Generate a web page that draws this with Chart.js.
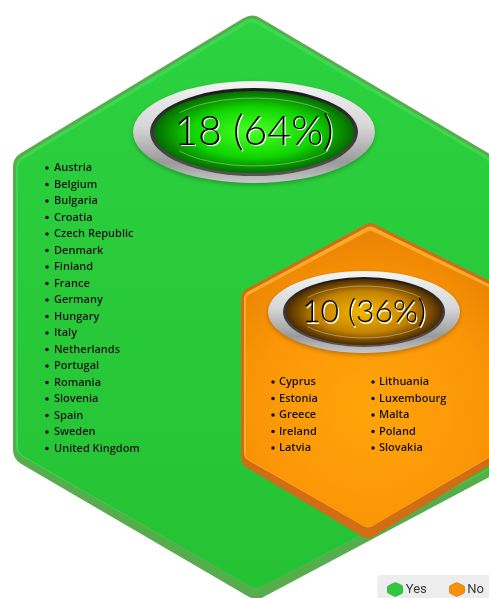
<!DOCTYPE html>
<html>
<head>
<meta charset="utf-8">
<script src="https://cdn.jsdelivr.net/npm/chart.js@4"></script>
<style>
  html, body { margin: 0; padding: 0; background: #ffffff; }
  #wrap { width: 489px; height: 598px; position: relative; overflow: hidden; }
</style>
</head>
<body>
<div id="wrap"><canvas id="c" width="489" height="598"></canvas></div>
<script>
// ---- data ----
const categories = ['Yes', 'No'];
const counts = [18, 10];
const yesCountries = [
  'Austria', 'Belgium', 'Bulgaria', 'Croatia', 'Czech Republic', 'Denmark',
  'Finland', 'France', 'Germany', 'Hungary', 'Italy', 'Netherlands',
  'Portugal', 'Romania', 'Slovenia', 'Spain', 'Sweden', 'United Kingdom'
];
const noCountries = [
  'Cyprus', 'Estonia', 'Greece', 'Ireland', 'Latvia',
  'Lithuania', 'Luxembourg', 'Malta', 'Poland', 'Slovakia'
];
const countryLists = [yesCountries, noCountries];
const seriesColors = ['#2ec23a', '#f28c00'];

// ---- layout of the two hexagon panels (canvas pixels) ----
const panels = [
  {
    hex: [[252, 13], [495, 157], [497, 473], [256, 601], [13, 459], [13, 158]],
    corner: 16,
    rim: '#55ad4c', band: '#3bd850',
    fillTop: '#2cd23f', fillBottom: '#25c233', radial: false,
    badge: { cx: 254, cy: 132, rx: 121, ry: 51, ringRx: 104, ringRy: 44, rx2: 100, ry2: 41,
             inner: ['#46ff24', '#10d400', '#056a00'], font: 41, maxW: 165 },
    list: { cols: [{ bullet: 47, text: 54 }], top: 168, step: 16.5, perCol: 18 }
  },
  {
    hex: [[370, 222], [502, 287], [502, 458], [368, 540], [241, 464], [241, 292]],
    corner: 11,
    rim: '#d16d14', band: '#fcaa28',
    fillTop: '#ffa30a', fillBottom: '#e57d02', radial: true,
    badge: { cx: 364, cy: 312, rx: 96, ry: 41, ringRx: 81, ringRy: 35, rx2: 78, ry2: 33,
             inner: ['#f0b400', '#c48300', '#4a2a00'], font: 32, maxW: 124 },
    list: { cols: [{ bullet: 273, text: 279 }, { bullet: 373, text: 379 }], top: 382, step: 16.5, perCol: 5 }
  }
];

function roundedPoly(ctx, pts, r) {
  const n = pts.length;
  ctx.beginPath();
  const m0 = [(pts[n - 1][0] + pts[0][0]) / 2, (pts[n - 1][1] + pts[0][1]) / 2];
  ctx.moveTo(m0[0], m0[1]);
  for (let i = 0; i < n; i++) {
    const p = pts[i], q = pts[(i + 1) % n];
    ctx.arcTo(p[0], p[1], q[0], q[1], r);
  }
  ctx.closePath();
}

// shrink a hexagon [top, UR, LR, bottom, LL, UL]
function inset(pts, dTop, dSide, dBottom) {
  const [t, ur, lr, b, ll, ul] = pts;
  return [
    [t[0], t[1] + dTop * 1.15],
    [ur[0] - dSide, ur[1] + dTop * 0.6],
    [lr[0] - dSide, lr[1] - dBottom * 0.6],
    [b[0], b[1] - dBottom * 1.15],
    [ll[0] + dSide, ll[1] - dBottom * 0.6],
    [ul[0] + dSide, ul[1] + dTop * 0.6]
  ];
}

function drawPanel(ctx, p) {
  // outer rim
  roundedPoly(ctx, p.hex, p.corner);
  ctx.fillStyle = p.rim;
  ctx.fill();
  // highlight band along the upper edges
  roundedPoly(ctx, inset(p.hex, 3, 3, 10), p.corner - 2);
  ctx.fillStyle = p.band;
  ctx.fill();
  // main face
  const face = inset(p.hex, 7, 5, 10);
  roundedPoly(ctx, face, p.corner - 4);
  let g;
  if (p.radial) {
    const cx = (face[0][0] + face[3][0]) / 2, cy = (face[0][1] + face[3][1]) / 2 + 30;
    g = ctx.createRadialGradient(cx, cy, 10, cx, cy, 200);
    g.addColorStop(0, p.fillTop);
    g.addColorStop(0.55, '#fb9606');
    g.addColorStop(1, p.fillBottom);
  } else {
    g = ctx.createLinearGradient(0, face[0][1], 0, face[3][1]);
    g.addColorStop(0, p.fillTop);
    g.addColorStop(1, p.fillBottom);
  }
  ctx.fillStyle = g;
  ctx.fill();
}

function drawBadge(ctx, b, text) {
  ctx.save();
  // silver ring
  let g = ctx.createLinearGradient(0, b.cy - b.ry, 0, b.cy + b.ry);
  g.addColorStop(0, '#f4f4f4');
  g.addColorStop(0.45, '#d6d6d6');
  g.addColorStop(0.8, '#9a9a9a');
  g.addColorStop(1, '#c8c8c8');
  ctx.shadowColor = 'rgba(0,0,0,0.25)';
  ctx.shadowBlur = 4;
  ctx.shadowOffsetY = 2;
  ctx.beginPath();
  ctx.ellipse(b.cx, b.cy, b.rx, b.ry, 0, 0, Math.PI * 2);
  ctx.fillStyle = g;
  ctx.fill();
  ctx.shadowColor = 'transparent';
  // dark groove
  g = ctx.createLinearGradient(0, b.cy - b.ringRy, 0, b.cy + b.ringRy);
  g.addColorStop(0, '#1a1a1a');
  g.addColorStop(1, '#555555');
  ctx.beginPath();
  ctx.ellipse(b.cx, b.cy, b.ringRx, b.ringRy, 0, 0, Math.PI * 2);
  ctx.fillStyle = g;
  ctx.fill();
  // coloured core
  ctx.save();
  ctx.translate(b.cx, b.cy);
  ctx.scale(1, b.ry2 / b.rx2);
  g = ctx.createRadialGradient(0, 0, 4, 0, 0, b.rx2);
  g.addColorStop(0, b.inner[0]);
  g.addColorStop(0.6, b.inner[1]);
  g.addColorStop(1, b.inner[2]);
  ctx.beginPath();
  ctx.arc(0, 0, b.rx2, 0, Math.PI * 2);
  ctx.fillStyle = g;
  ctx.fill();
  ctx.restore();
  // faint inner gloss lines
  ctx.strokeStyle = 'rgba(255,255,255,0.35)';
  ctx.lineWidth = 1;
  ctx.beginPath();
  ctx.ellipse(b.cx, b.cy + 2, b.rx2 - 8, b.ry2 - 5, 0, Math.PI * 1.2, Math.PI * 1.8);
  ctx.stroke();
  ctx.beginPath();
  ctx.ellipse(b.cx, b.cy - 2, b.rx2 - 8, b.ry2 - 5, 0, Math.PI * 0.2, Math.PI * 0.8);
  ctx.stroke();
  // value label
  ctx.font = '300 ' + b.font + 'px Lato, "DejaVu Sans", sans-serif';
  ctx.textAlign = 'center';
  ctx.textBaseline = 'middle';
  ctx.fillStyle = '#ffffff';
  ctx.fillText(text, b.cx + 1.2, b.cy + 1.2, b.maxW);
  ctx.fillStyle = '#000000';
  ctx.fillText(text, b.cx, b.cy, b.maxW);
  ctx.restore();
}

function drawList(ctx, l, items) {
  ctx.save();
  ctx.font = '600 11px "Open Sans", "DejaVu Sans", sans-serif';
  ctx.textBaseline = 'middle';
  ctx.textAlign = 'left';
  ctx.fillStyle = '#141414';
  items.forEach((name, i) => {
    const col = l.cols[Math.floor(i / l.perCol)];
    const y = l.top + (i % l.perCol) * l.step;
    ctx.beginPath();
    ctx.arc(col.bullet, y, 1.8, 0, Math.PI * 2);
    ctx.fill();
    ctx.fillText(name, col.text, y);
  });
  ctx.restore();
}

function hexIcon(color, edge) {
  const c = document.createElement('canvas');
  c.width = 16; c.height = 15;
  const x = c.getContext('2d');
  const pts = [[8, 0.5], [15.5, 4], [15.5, 11], [8, 14.5], [0.5, 11], [0.5, 4]];
  roundedPoly(x, pts, 2);
  x.fillStyle = color;
  x.fill();
  x.strokeStyle = edge;
  x.lineWidth = 0.8;
  x.stroke();
  return c;
}
const legendIcons = [hexIcon('#2fc73c', '#27a832'), hexIcon('#f7900a', '#db7800')];

const total = counts.reduce((a, b) => a + b, 0);

const panelPlugin = {
  id: 'hexPanels',
  beforeDraw(chart) {
    const ctx = chart.ctx;
    ctx.save();
    chart.data.datasets.forEach((ds, i) => {
      const p = panels[i];
      drawPanel(ctx, p);
      const n = ds.data[0].y;
      const label = n + ' (' + Math.round(n / total * 100) + '%)';
      drawBadge(ctx, p.badge, label);
      drawList(ctx, p.list, countryLists[i]);
    });
    // legend backdrop
    const boxes = chart.legend && chart.legend.legendHitBoxes;
    if (boxes && boxes.length) {
      const left = boxes[0].left - 14;
      const top = boxes[0].top - 8;
      ctx.fillStyle = '#ededed';
      ctx.beginPath();
      ctx.roundRect(left, top, chart.width - left + 6, chart.height - top + 6, 4);
      ctx.fill();
    }
    ctx.restore();
  }
};

new Chart(document.getElementById('c'), {
  type: 'scatter',
  data: {
    datasets: categories.map((name, i) => ({
      label: name,
      data: [{ x: i, y: counts[i] }],
      pointRadius: 0,
      pointHoverRadius: 0,
      backgroundColor: seriesColors[i],
      pointStyle: legendIcons[i]
    }))
  },
  options: {
    responsive: false,
    animation: false,
    events: [],
    layout: { padding: { left: 0, right: -21, top: 0, bottom: -8 } },
    scales: { x: { display: false }, y: { display: false } },
    plugins: {
      tooltip: { enabled: false },
      legend: {
        position: 'bottom',
        align: 'end',
        labels: {
          usePointStyle: true,
          pointStyleWidth: 8,
          padding: 26,
          color: '#3a3a3a',
          font: { family: 'Roboto, "DejaVu Sans", sans-serif', size: 13 }
        }
      }
    }
  },
  plugins: [panelPlugin]
});
</script>
</body>
</html>
